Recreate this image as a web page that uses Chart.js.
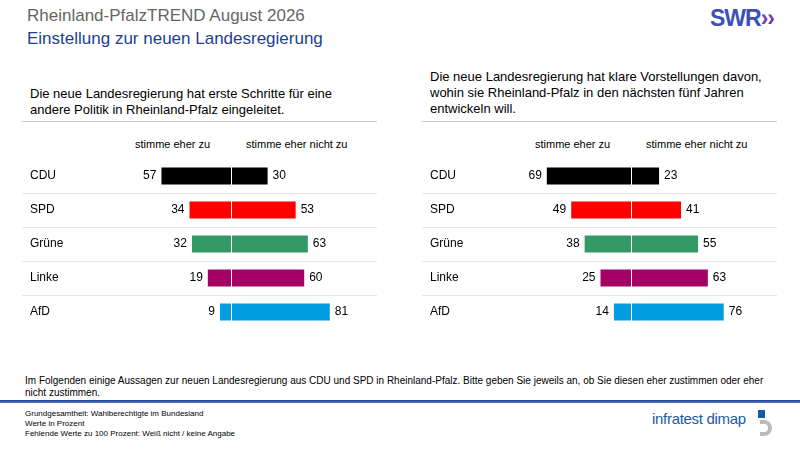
<!DOCTYPE html>
<html lang="de">
<head>
<meta charset="UTF-8">
<title>Rheinland-PfalzTREND</title>
<script src="https://cdn.jsdelivr.net/npm/chart.js"></script>
<style>
  body { margin: 0; width: 800px; height: 450px; position: relative; background: #fff; font-family: Arial, "Liberation Sans", sans-serif; overflow: hidden; }
  .t { position: absolute; white-space: nowrap; }
  canvas { position: absolute; }
</style>
</head>
<body>
<div class="t" style="left:27px;top:6px;font-size:17px;color:#666;">Rheinland-PfalzTREND August 2026</div>
<div class="t" style="left:27px;top:29px;font-size:17px;color:#1c3f94;">Einstellung zur neuen Landesregierung</div>
<div class="t" style="left:710px;top:5px;font-size:23px;font-weight:bold;color:#3f4fb8;letter-spacing:-1px;">SWR<span style="color:#6a3fb0;">&#8250;&#8250;</span></div>

<div class="t" style="left:30px;top:86px;font-size:13px;line-height:16px;color:#000;">Die neue Landesregierung hat erste Schritte für eine<br>andere Politik in Rheinland-Pfalz eingeleitet.</div>
<div style="position:absolute;left:22px;top:121px;width:355px;height:1px;background:#ccc;"></div>
<div class="t" style="left:430px;top:69px;font-size:13px;line-height:16px;color:#000;">Die neue Landesregierung hat klare Vorstellungen davon,<br>wohin sie Rheinland-Pfalz in den nächsten fünf Jahren<br>entwickeln will.</div>
<div style="position:absolute;left:422px;top:121px;width:355px;height:1px;background:#ccc;"></div>

<div class="t" style="left:135px;top:138px;font-size:11px;">stimme eher zu</div>
<div class="t" style="left:246px;top:138px;font-size:11px;">stimme eher nicht zu</div>
<div class="t" style="left:535px;top:138px;font-size:11px;">stimme eher zu</div>
<div class="t" style="left:646px;top:138px;font-size:11px;">stimme eher nicht zu</div>

<canvas id="c1" style="left:0;top:159px;width:400px;height:170px;"></canvas>
<canvas id="c2" style="left:400px;top:159px;width:400px;height:170px;"></canvas>

<div class="t" style="left:25px;top:375px;font-size:10px;line-height:12px;color:#000;white-space:normal;width:760px;">Im Folgenden einige Aussagen zur neuen Landesregierung aus CDU und SPD in Rheinland-Pfalz. Bitte geben Sie jeweils an, ob Sie diesen eher zustimmen oder eher nicht zustimmen.</div>
<div style="position:absolute;left:0;top:400px;width:800px;height:3px;background:linear-gradient(#1c3f94,#5b7fc4);"></div>
<div class="t" style="left:25px;top:409px;font-size:8px;line-height:10px;color:#000;">Grundgesamtheit: Wahlberechtigte im Bundesland<br>Werte in Prozent<br>Fehlende Werte zu 100 Prozent: Weiß nicht / keine Angabe</div>
<div class="t" style="left:652px;top:410px;font-size:15px;color:#1c5aa0;letter-spacing:-0.3px;">infratest dimap</div>
<div style="position:absolute;left:758px;top:410px;width:7px;height:8px;background:#1c5aa0;"></div>
<div style="position:absolute;left:760px;top:420px;width:12px;height:16px;border:4px solid #bbb;border-left:none;border-radius:0 10px 10px 0;box-sizing:border-box;"></div>

<script>
const parties = ['CDU', 'SPD', 'Grüne', 'Linke', 'AfD'];
const colors = ['#000000', '#ff0000', '#339966', '#a50064', '#009de0'];
const agree1 = [57, 34, 32, 19, 9];
const disagree1 = [30, 53, 63, 60, 81];
const agree2 = [69, 49, 38, 25, 14];
const disagree2 = [23, 41, 55, 63, 76];

const decor = {
  id: 'decor',
  afterDatasetsDraw(chart) {
    const ctx = chart.ctx, x = chart.scales.x, y = chart.scales.y;
    const cx = x.getPixelForValue(0);
    ctx.save();
    // white centre line
    ctx.strokeStyle = '#fff';
    ctx.lineWidth = 1;
    ctx.beginPath();
    ctx.moveTo(cx + 0.5, chart.chartArea.top);
    ctx.lineTo(cx + 0.5, chart.chartArea.bottom);
    ctx.stroke();
    // row separators
    ctx.strokeStyle = '#e6e6e6';
    for (let i = 0; i < parties.length - 1; i++) {
      const yy = (y.getPixelForValue(i) + y.getPixelForValue(i + 1)) / 2;
      ctx.beginPath();
      ctx.moveTo(22, Math.round(yy) + 0.5);
      ctx.lineTo(377, Math.round(yy) + 0.5);
      ctx.stroke();
    }
    // labels
    ctx.font = '12px Arial, "Liberation Sans", sans-serif';
    ctx.fillStyle = '#000';
    ctx.textBaseline = 'middle';
    const a = chart.data.datasets[0].data, d = chart.data.datasets[1].data;
    parties.forEach((p, i) => {
      const yy = y.getPixelForValue(i);
      ctx.textAlign = 'left';
      ctx.fillText(p, 30, yy);
      ctx.textAlign = 'right';
      ctx.fillText(String(-a[i]), x.getPixelForValue(a[i]) - 5, yy);
      ctx.textAlign = 'left';
      ctx.fillText(String(d[i]), x.getPixelForValue(d[i]) + 5, yy);
    });
    ctx.restore();
  }
};

function makeChart(id, agree, disagree) {
  new Chart(document.getElementById(id), {
    type: 'bar',
    data: {
      labels: parties,
      datasets: [
        { data: agree.map(v => -v), backgroundColor: colors, barPercentage: 1, categoryPercentage: 0.5 },
        { data: disagree, backgroundColor: colors, barPercentage: 1, categoryPercentage: 0.5 }
      ]
    },
    options: {
      indexAxis: 'y',
      responsive: false,
      animation: false,
      layout: { padding: { left: 109, right: 47, top: 0, bottom: 0 } },
      plugins: { legend: { display: false }, tooltip: { enabled: false } },
      scales: {
        x: { stacked: true, min: -100, max: 100, display: false },
        y: { stacked: true, display: false }
      }
    },
    plugins: [decor]
  });
}

makeChart('c1', agree1, disagree1);
makeChart('c2', agree2, disagree2);
</script>
</body>
</html>
